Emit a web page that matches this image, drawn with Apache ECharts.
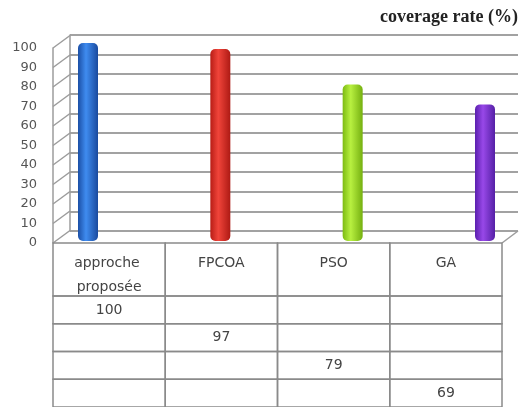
<!DOCTYPE html>
<html>
<head>
<meta charset="utf-8">
<script src="https://cdn.jsdelivr.net/npm/echarts@6/dist/echarts.min.js"></script>
<style>html,body{margin:0;padding:0;background:#fff;}#c{width:521px;height:407px;}</style>
</head>
<body>
<div id="c"></div>
<script>
const categories = ['approche proposée', 'FPCOA', 'PSO', 'GA'];
const values = [100, 97, 79, 69];
const seriesNames = ['S1', 'S2', 'S3', 'S4'];
const yTicks = [0, 10, 20, 30, 40, 50, 60, 70, 80, 90, 100];
const titleText = 'coverage rate (%)';

const barColors = [
  ['#1b4fa6', '#3f8cf0', '#1a4a9e'],
  ['#b81d16', '#f0443a', '#ae1a14'],
  ['#7dbb12', '#b8f040', '#75b010'],
  ['#5a1fae', '#9848e8', '#5520a6']
];

const chart = echarts.init(document.getElementById('c'), null, {renderer: 'canvas'});
const font = 'DejaVu Sans';
const lineCol = '#9c9c9c';

const tableData = [];
seriesNames.forEach((s, r) => {
  categories.forEach((c, col) => {
    tableData.push([col, r, col === r ? String(values[r]) : '']);
  });
});

const option = {
  backgroundColor: '#fff',
  animation: false,
  title: {
    text: titleText, right: 3, top: 8, padding: 0,
    textStyle: {fontFamily: 'Liberation Serif', fontWeight: 'bold', fontSize: 18, color: '#222'}
  },
  grid: [
    {left: 53, right: 19, top: 48, bottom: 164},   // front (labels)
    {left: 70, right: 3, top: 35, bottom: 176},    // back wall
    {left: 88, right: 36, top: 43, bottom: 166},   // bars
    {left: 53, right: 19, top: 243, height: 53},   // table header
    {left: 53, right: 19, top: 296, height: 116}   // table values
  ],
  xAxis: [
    {gridIndex: 0, type: 'category', data: categories, show: false},
    {gridIndex: 1, type: 'category', data: categories, show: false},
    {gridIndex: 2, type: 'category', data: categories, boundaryGap: false, show: false},
    {gridIndex: 3, type: 'category', data: categories, show: false},
    {gridIndex: 4, type: 'category', data: categories, show: false}
  ],
  yAxis: [
    {gridIndex: 0, type: 'value', min: 0, max: 100, interval: 10,
      axisLine: {show: true, lineStyle: {color: lineCol, width: 1.5}},
      axisTick: {show: false}, splitLine: {show: false},
      axisLabel: {margin: 16, fontFamily: font, fontSize: 13, color: '#555'}},
    {gridIndex: 1, type: 'value', min: 0, max: 100, interval: 10,
      axisLine: {show: true, lineStyle: {color: lineCol, width: 1.5}},
      axisTick: {show: false}, axisLabel: {show: false},
      splitLine: {show: true, lineStyle: {color: '#a2a2a2', width: 2}}},
    {gridIndex: 2, type: 'value', min: 0, max: 100, show: false},
    {gridIndex: 3, type: 'category', data: ['h'], show: false},
    {gridIndex: 4, type: 'category', data: seriesNames, inverse: true, show: false}
  ],
  series: [
    {
      type: 'custom', xAxisIndex: 0, yAxisIndex: 0, silent: true,
      data: yTicks.map(v => [0, v]),
      encode: {x: 0, y: 1},
      renderItem: function (params, api) {
        const cs = params.coordSys;
        const v = api.value(1);
        const y = api.coord([0, v])[1];
        const children = [{type: 'line', shape: {x1: cs.x, y1: y, x2: cs.x + 17, y2: y - 12.5},
          style: {stroke: lineCol, lineWidth: 1.5}}];
        if (v === 0) {
          children.push({type: 'line', shape: {x1: cs.x + cs.width, y1: y, x2: cs.x + cs.width + 16, y2: y - 12},
            style: {stroke: lineCol, lineWidth: 1.5}});
        }
        return {type: 'group', children: children};
      }
    },
    {
      type: 'bar', xAxisIndex: 2, yAxisIndex: 2, barWidth: 20,
      data: values.map((v, i) => ({
        value: v,
        itemStyle: {
          borderRadius: 5,
          color: {type: 'linear', x: 0, y: 0, x2: 1, y2: 0, colorStops: [
            {offset: 0, color: barColors[i][0]},
            {offset: 0.4, color: barColors[i][1]},
            {offset: 1, color: barColors[i][2]}
          ]}
        }
      }))
    },
    {
      type: 'custom', xAxisIndex: 3, yAxisIndex: 3, silent: true,
      data: categories.map((c, i) => [i, 0, c]),
      encode: {x: 0, y: 1},
      renderItem: function (params, api) {
        const c = api.coord([api.value(0), 0]);
        const s = api.size([1, 1]);
        const x0 = c[0] - s[0] / 2, y0 = c[1] - s[1] / 2;
        return {type: 'group', children: [
          {type: 'rect', shape: {x: x0, y: y0, width: s[0], height: s[1]},
            style: {fill: 'none', stroke: '#8a8a8a', lineWidth: 1.5}},
          {type: 'text', style: {text: categories[params.dataIndex], x: c[0], y: y0 + 8,
            width: s[0] - 20, overflow: 'break', lineHeight: 24,
            align: 'center', verticalAlign: 'top', fontFamily: font, fontSize: 14, fill: '#444'}}
        ]};
      }
    },
    {
      type: 'custom', xAxisIndex: 4, yAxisIndex: 4, silent: true,
      data: tableData,
      encode: {x: 0, y: 1},
      renderItem: function (params, api) {
        const c = api.coord([api.value(0), api.value(1)]);
        const s = api.size([1, 1]);
        const item = tableData[params.dataIndex];
        return {type: 'group', children: [
          {type: 'rect', shape: {x: c[0] - s[0] / 2, y: c[1] - s[1] / 2, width: s[0], height: s[1]},
            style: {fill: 'none', stroke: '#8a8a8a', lineWidth: 1.5}},
          {type: 'text', style: {text: item[2], x: c[0], y: c[1],
            align: 'center', verticalAlign: 'middle', fontFamily: font, fontSize: 14, fill: '#444'}}
        ]};
      }
    }
  ]
};
chart.setOption(option);
</script>
</body>
</html>
